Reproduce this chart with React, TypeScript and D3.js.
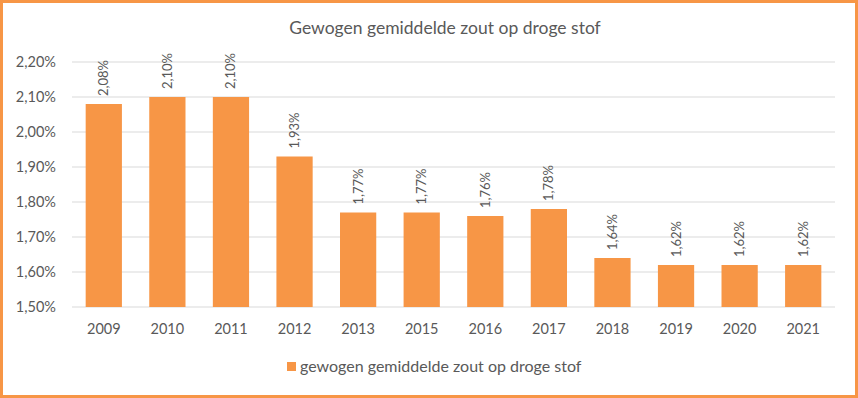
import React from "react";
import * as d3 from "d3";

const years = ["2009", "2010", "2011", "2012", "2013", "2015", "2016", "2017", "2018", "2019", "2020", "2021"];
const values = [2.08, 2.1, 2.1, 1.93, 1.77, 1.77, 1.76, 1.78, 1.64, 1.62, 1.62, 1.62];
const yTicks = [1.5, 1.6, 1.7, 1.8, 1.9, 2.0, 2.1, 2.2];
const title = "Gewogen gemiddelde zout op droge stof";
const seriesName = "gewogen gemiddelde zout op droge stof";

const W = 858;
const H = 398;
const FONT = "Lato, 'Open Sans', sans-serif";
const TXT = "#595959";
const BAR = "#F79646";

const fmt = (v: number) => v.toFixed(2).replace(".", ",") + "%";

export default function App() {
  const x = d3.scaleBand<string>().domain(years).range([72, 835]).paddingInner(0.43).paddingOuter(0.215);
  const y = d3.scaleLinear().domain([1.5, 2.2]).range([307, 62]);
  return (
    <svg width={W} height={H} style={{ position: "absolute", left: 0, top: 0 }} fontFamily={FONT}>
      <rect x={0} y={0} width={W} height={H} fill="#fff" />
      <text x={445} y={34} textAnchor="middle" fontSize={17.5} fill={TXT}>{title}</text>
      {yTicks.map((t) => (
        <g key={t}>
          <line x1={72} x2={835} y1={y(t)} y2={y(t)} stroke="#d9d9d9" strokeWidth={1} />
          <text x={56} y={y(t)} dy="0.35em" textAnchor="end" fontSize={14.5} fill={TXT}>{fmt(t)}</text>
        </g>
      ))}
      {years.map((yr, i) => {
        const bx = x(yr)!;
        const top = y(values[i]);
        const cx = bx + x.bandwidth() / 2;
        return (
          <g key={yr}>
            <rect x={bx} y={top} width={x.bandwidth()} height={y(1.5) - top} fill={BAR} />
            <text transform={`translate(${cx + 4.5},${top - 8}) rotate(-90)`} textAnchor="start" fontSize={13} fill={TXT}>{fmt(values[i])}</text>
            <text x={cx} y={334} textAnchor="middle" fontSize={14.5} fill={TXT}>{yr}</text>
          </g>
        );
      })}
      <rect x={287} y={362} width={9} height={9} fill={BAR} />
      <text x={300} y={372} fontSize={16} fill={TXT}>{seriesName}</text>
      <rect x={1.5} y={1.5} width={W - 3} height={H - 3} fill="none" stroke={BAR} strokeWidth={3} />
    </svg>
  );
}
